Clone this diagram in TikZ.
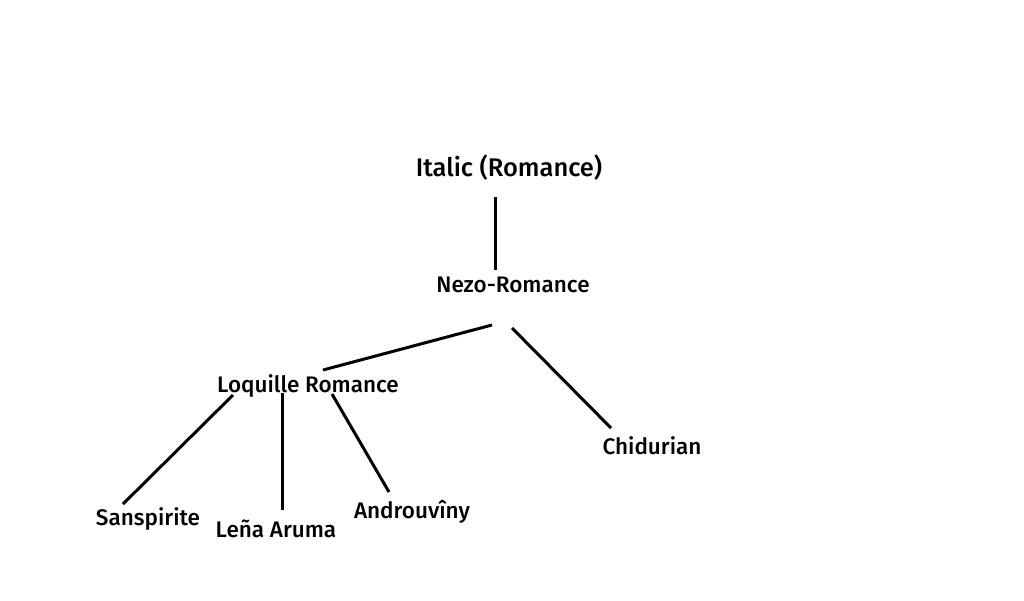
\documentclass[tikz,border=0pt]{standalone}
\usepackage{fontspec}
\setmainfont{Fira Sans}[UprightFont=* Medium]
\usetikzlibrary{calc}
\begin{document}
\begin{tikzpicture}[x=1pt, y=-1pt, every node/.style={inner sep=0pt, anchor=base, font=\fontsize{22.5}{26}\selectfont}, top/.style={font=\fontsize{25.5}{30}\selectfont}, branch/.style={line width=3pt}]
	\useasboundingbox (0,0) rectangle (1024,600);
	\node[top](italic) at (509,176) {Italic (Romance)};
	\node(nezo) at (513,292) {Nezo-Romance};
	\node(loq) at (308,392) {Loquille Romance};
	\node(chid) at (652,454) {Chidurian};
	\node(sans) at (148,525) {Sanspirite};
	\node(lena) at (276,537) {Leña Aruma};
	\node(andro) at (412,518) {Androuvîny};
	\draw[branch] ($(italic.base)+(-14,21)$) -- ($(nezo.base)+(-18,-22)$);
	\draw[branch] ($(nezo.base)+(-21,33)$) -- ($(loq.base)+(15,-22)$);
	\draw[branch] ($(nezo.base)+(-1,36)$) -- ($(chid.base)+(-41,-26)$);
	\draw[branch] ($(loq.base)+(-75,3)$) -- ($(sans.base)+(-25,-21)$);
	\draw[branch] ($(loq.base)+(-26,1)$) -- ($(lena.base)+(6,-27)$);
	\draw[branch] ($(loq.base)+(24,2)$) -- ($(andro.base)+(-23,-26)$);
\end{tikzpicture}
\end{document}
